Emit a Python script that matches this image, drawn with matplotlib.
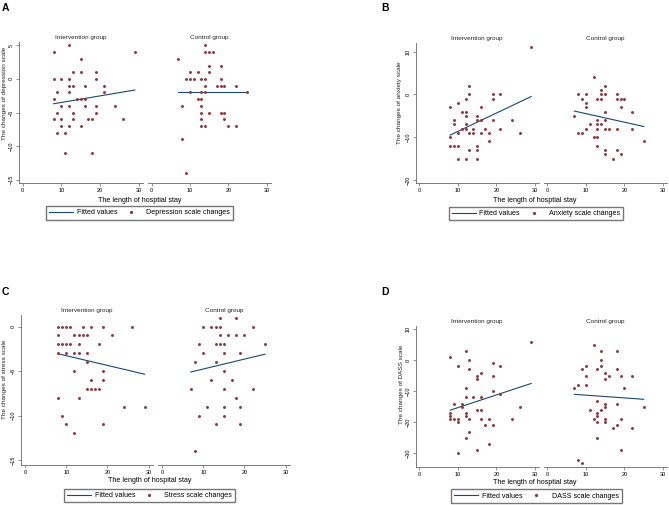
import numpy as np
import matplotlib
matplotlib.use('Agg')
import matplotlib.pyplot as plt
from matplotlib.lines import Line2D
from matplotlib.legend_handler import HandlerLine2D

plt.rcParams['font.family'] = ['Liberation Sans', 'DejaVu Sans']

# ---- data ----
group_titles = ['Intervention group', 'Control group']
x_ticks = [0, 10, 20, 30]

# A: depression
dep_int_x = [12, 8, 29, 15, 13, 15, 19, 8, 10, 12, 19, 12, 13, 16, 21, 9, 12, 21, 8, 14, 15, 16,
             10, 12, 16, 19, 24, 9, 13, 19, 8, 10, 13, 17, 18, 26, 10, 12, 15, 9, 11, 11, 18]
dep_int_y = [5, 4, 4, 3, 1, 1, 1, 0, 0, 0, 0, -1, -1, -1, -1, -2, -2, -2, -3, -3, -3, -3,
             -4, -4, -4, -4, -4, -5, -5, -5, -6, -6, -6, -6, -6, -6, -7, -7, -7, -8, -8, -11, -11]
dep_ctl_x = [14, 14, 15, 16, 7, 15, 18, 10, 12, 15, 9, 10, 11, 13, 14, 18, 14, 17, 18, 19, 22,
             10, 13, 14, 25, 12, 13, 8, 13, 13, 15, 18, 19, 13, 19, 13, 14, 20, 22, 8, 9]
dep_ctl_y = [5, 4, 4, 4, 3, 2, 2, 1, 1, 1, 0, 0, 0, 0, 0, 0, -1, -1, -1, -1, -1,
             -2, -2, -2, -2, -3, -3, -4, -4, -5, -5, -5, -5, -6, -6, -7, -7, -7, -7, -9, -14]
dep_fit_int = ([8, 29], [-3.7, -1.65])
dep_fit_ctl = ([7, 25], [-2.0, -2.0])

# B: anxiety
anx_int_x = [29, 13, 13, 19, 21, 12, 19, 10, 8, 16, 11, 12, 12, 15, 9, 15, 16, 19, 24, 9, 12,
             11, 12, 14, 17, 21, 10, 13, 14, 16, 18, 26, 8, 18, 8, 9, 10, 15, 13, 15, 10, 12, 15]
anx_int_y = [11, 2, 0, 0, 0, -1, -1, -2, -3, -3, -4, -4, -5, -5, -6, -6, -6, -6, -6, -7, -7,
             -8, -8, -8, -8, -8, -9, -9, -9, -9, -9, -9, -10, -11, -12, -12, -12, -12, -13, -13,
             -15, -15, -15]
anx_ctl_x = [12, 15, 14, 8, 10, 14, 15, 18, 9, 13, 14, 18, 19, 20, 10, 10, 19, 15, 22, 7, 13, 15,
             11, 13, 14, 10, 13, 15, 16, 18, 22, 8, 9, 12, 13, 25, 13, 15, 18, 15, 19, 17]
anx_ctl_y = [4, 2, 1, 0, 0, 0, 0, 0, -1, -1, -1, -1, -1, -1, -2, -3, -3, -4, -4, -5, -6, -6,
             -7, -7, -7, -8, -8, -8, -8, -8, -8, -9, -9, -10, -10, -11, -12, -13, -13, -14, -14, -15]
anx_fit_int = ([8, 29], [-9.5, -0.5])
anx_fit_ctl = ([7, 25], [-3.9, -7.5])

# C: stress
str_int_x = [8, 9, 10, 11, 14, 16, 19, 26, 8, 12, 13, 14, 15, 21, 8, 9, 10, 11, 13, 18,
             8, 10, 12, 13, 15, 15, 12, 19, 16, 19, 15, 16, 17, 18, 8, 13, 24, 29, 9, 10, 19, 12]
str_int_y = [0, 0, 0, 0, 0, 0, 0, 0, -1, -1, -1, -1, -1, -1, -2, -2, -2, -2, -2, -2,
             -3, -3, -3, -3, -3, -4, -5, -5, -6, -6, -7, -7, -7, -7, -8, -8, -9, -9, -10, -11, -11, -12]
str_ctl_x = [14, 18, 10, 12, 13, 14, 22, 14, 16, 18, 20, 9, 13, 14, 15, 25, 10, 15, 19, 8, 13,
             15, 12, 17, 7, 15, 22, 18, 11, 15, 19, 9, 15, 13, 19, 8]
str_ctl_y = [1, 1, 0, 0, 0, 0, 0, -1, -1, -1, -1, -2, -2, -2, -2, -2, -3, -3, -3, -4, -4,
             -5, -6, -6, -7, -7, -7, -8, -9, -9, -9, -10, -10, -11, -11, -14]
str_fit_int = ([8, 29], [-3.05, -5.35])
str_fit_ctl = ([7, 25], [-5.1, -3.1])

# D: DASS
dass_int_x = [29, 12, 8, 13, 19, 10, 21, 13, 16, 15, 19, 15, 12, 19, 21, 12, 14, 16, 9, 11, 11, 26,
              15, 16, 8, 12, 8, 12, 8, 9, 10, 13, 16, 18, 24, 10, 17, 19, 13, 12, 18, 15, 10]
dass_int_y = [6, 3, 1, 0, -1, -2, -2, -3, -4, -5, -5, -6, -9, -10, -11, -12, -12, -12, -14, -14,
              -15, -15, -16, -16, -17, -17, -18, -18, -19, -19, -19, -19, -19, -19, -19, -20,
              -21, -21, -23, -25, -27, -29, -30]
dass_ctl_x = [12, 14, 18, 14, 10, 14, 9, 13, 18, 15, 10, 16, 19, 22, 15, 8, 10, 7, 20, 13, 15, 18,
              15, 25, 11, 14, 13, 13, 12, 15, 19, 13, 15, 18, 17, 22, 13, 19, 8, 9]
dass_ctl_y = [5, 3, 3, 0, -2, -2, -3, -3, -3, -4, -5, -5, -5, -5, -6, -8, -8, -9, -9, -13, -14, -14,
              -15, -15, -16, -16, -17, -18, -19, -19, -19, -20, -20, -21, -22, -22, -25, -29, -32, -33]
dass_fit_int = ([8, 29], [-16.1, -7.5])
dass_fit_ctl = ([7, 25], [-11.0, -12.6])

# ---- styling / layout ----
W, H = 669, 505
MAROON = '#90353b'
NAVY = '#1a476f'
AXC = '#666666'

fig = plt.figure(figsize=(W / 100, H / 100), dpi=100)


class DotAtEnd(HandlerLine2D):
    # put the legend dot near the right end of its slot, next to its text
    def get_xdata(self, legend, xdescent, ydescent, width, height, fontsize):
        xdata, _ = super().get_xdata(legend, xdescent, ydescent, width, height, fontsize)
        return xdata, np.array([-xdescent + 0.9 * width])


def box(l, r, t, b):
    return [l / W, 1 - b / H, (r - l) / W, (b - t) / H]


def fxy(x, y):
    return x / W, 1 - y / H


def draw_panel(letter, letter_xy, boxes, ylim, yticks, series, fits,
               ylabel, ylabel_xy, xlabel, xlabel_xy, legend_label, legend_xy):
    for i, bx in enumerate(boxes):
        ax = fig.add_axes(box(*bx))
        x, y = series[i]
        ax.plot(fits[i][0], fits[i][1], color=NAVY, lw=0.8, zorder=2)
        ax.scatter(x, y, s=4.5, color=MAROON, linewidths=0, zorder=3)
        ax.set_xlim(-1, 31)
        ax.set_ylim(*ylim)
        ax.set_xticks(x_ticks)
        ax.set_title(group_titles[i], fontsize=4.6, pad=2.5, color='#222222')
        for s in ['top', 'right']:
            ax.spines[s].set_visible(False)
        ax.spines['bottom'].set_color(AXC)
        ax.spines['bottom'].set_linewidth(0.6)
        ax.tick_params(axis='x', length=2, width=0.5, color=AXC, labelsize=4, pad=1.5)
        if i == 0:
            ax.spines['left'].set_color(AXC)
            ax.spines['left'].set_linewidth(0.6)
            ax.set_yticks(yticks)
            ax.tick_params(axis='y', length=2, width=0.5, color=AXC, labelsize=4, pad=1.5)
            for t in ax.get_yticklabels():
                t.set_rotation(90)
                t.set_va('center')
        else:
            ax.spines['left'].set_visible(False)
            ax.set_yticks([])
    fig.text(*fxy(*letter_xy), letter, fontsize=7.5, fontweight='bold', va='top', ha='left')
    fig.text(*fxy(*ylabel_xy), ylabel, fontsize=4.6, rotation=90, ha='center', va='center',
             color='#222222')
    fig.text(*fxy(*xlabel_xy), xlabel, fontsize=5.1, ha='center', va='center')
    line_h = Line2D([], [], color=NAVY, lw=0.8)
    dot_h = Line2D([], [], color=MAROON, marker='o', ms=2.3, ls='none', mew=0)
    fig.legend([line_h, dot_h], ['Fitted values', legend_label], loc='center',
               bbox_to_anchor=fxy(*legend_xy), ncol=2, fontsize=5.1, frameon=True,
               fancybox=False, edgecolor='#777777', framealpha=1, handlelength=3.4,
               handletextpad=0.5, columnspacing=0.2, borderpad=0.45, borderaxespad=0,
               handler_map={dot_h: DotAtEnd()})


draw_panel('A', (2, 3),
           [(18.8, 142.5, 42, 183), (147.8, 270.5, 42, 183)], (-15.5, 5.5), [-15, -10, -5, 0, 5],
           [(dep_int_x, dep_int_y), (dep_ctl_x, dep_ctl_y)], [dep_fit_int, dep_fit_ctl],
           'The changes of depression scale', (5, 93), 'The length of hosptial stay', (140, 200),
           'Depression scale changes', (139.5, 213))

draw_panel('B', (381, 3),
           [(415.5, 538.9, 43, 183), (543.5, 666.9, 43, 183)], (-20.7, 12), [-20, -10, 0, 10],
           [(anx_int_x, anx_int_y), (anx_ctl_x, anx_ctl_y)], [anx_fit_int, anx_fit_ctl],
           'The changes of anxiety scale', (400, 103), 'The length of hosptial stay', (535, 200),
           'Anxiety scale changes', (536, 213.5))

draw_panel('C', (2, 287),
           [(20.9, 152.8, 315, 465), (157.9, 289.8, 315, 465)], (-15.55, 1.3), [-15, -10, -5, 0],
           [(str_int_x, str_int_y), (str_ctl_x, str_ctl_y)], [str_fit_int, str_fit_ctl],
           'The changes of stress scale', (5, 379), 'The length of hospital stay', (150, 481),
           'Stress scale changes', (149.5, 495.5))

draw_panel('D', (381, 287),
           [(415.5, 538.9, 326, 467), (543.5, 666.9, 326, 467)], (-34.4, 11), [-30, -20, -10, 0, 10],
           [(dass_int_x, dass_int_y), (dass_ctl_x, dass_ctl_y)], [dass_fit_int, dass_fit_ctl],
           'The changes of DASS scale', (401, 384), 'The length of hosptial stay', (535, 482),
           'DASS scale changes', (536.5, 496))

fig.savefig('out.png', dpi=100)
